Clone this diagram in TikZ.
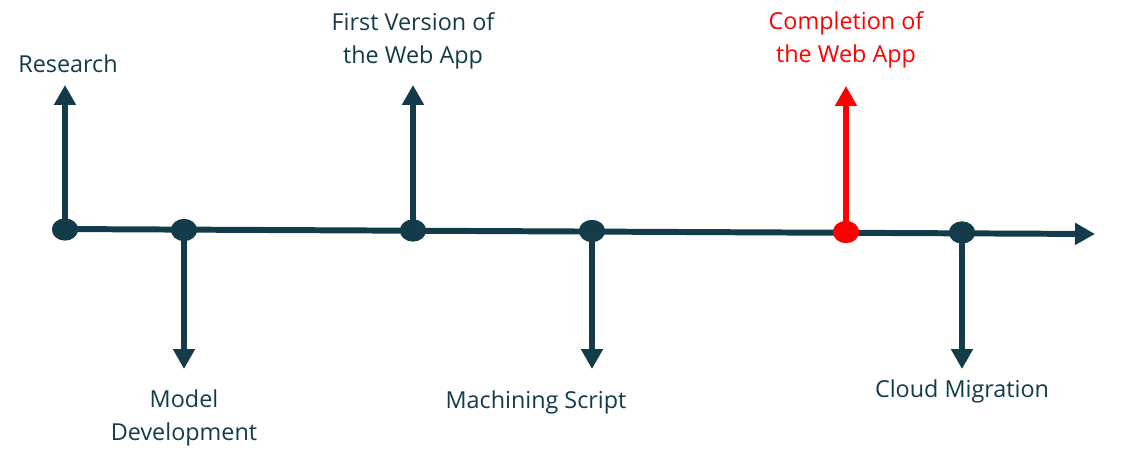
\documentclass[tikz,border=0pt]{standalone}
\usepackage{fontspec}
\setmainfont{Open Sans}
\usepackage{tikz}
\usetikzlibrary{shapes.geometric, arrows.meta, positioning}
\definecolor{timeteal}{RGB}{19, 59, 74}
\definecolor{donered}{RGB}{255, 0, 0}

\begin{document}
\begin{tikzpicture}[x=0.02cm, y=-0.02cm,
    dot/.style={ellipse, fill=timeteal, minimum width=0.52cm, minimum height=0.44cm, inner sep=0pt},
    reddot/.style={dot, fill=donered},
    arr/.style={-{Triangle[length=0.4cm, width=0.42cm]}, line width=3.4pt, color=timeteal},
    redarr/.style={arr, color=donered},
    label/.style={align=center, font=\fontsize{13.3}{19}\selectfont, text=timeteal},
    redlabel/.style={label, text=donered}
]
\useasboundingbox (0,0) rectangle (1130,455);

% axis
\coordinate (start) at (57,229);
\coordinate (stop) at (1095,234);
\draw[arr] (start) -- (stop);

% milestones on the axis
\node[dot] (research) at (65,229.5) {};
\node[dot] (model) at (184,230) {};
\node[dot] (first) at (413,230.5) {};
\node[dot] (script) at (592,231) {};
\node[reddot] (complete) at (846,232) {};
\node[dot] (cloud) at (962,232.5) {};

% arrow ends
\coordinate (researchtip) at (65,85);
\coordinate (modeltip) at (184,369);
\coordinate (firsttip) at (413,85);
\coordinate (scripttip) at (592,369);
\coordinate (completetip) at (846,86);
\coordinate (cloudtip) at (962,369);

\draw[arr] (research.center) -- (researchtip);
\draw[arr] (model.center) -- (modeltip);
\draw[arr] (first.center) -- (firsttip);
\draw[arr] (script.center) -- (scripttip);
\draw[redarr] (complete.center) -- (completetip);
\draw[arr] (cloud.center) -- (cloudtip);

% redraw dots over the stems
\node[dot] at (research) {};
\node[dot] at (model) {};
\node[dot] at (first) {};
\node[dot] at (script) {};
\node[reddot] at (complete) {};
\node[dot] at (cloud) {};

% labels
\node[label] (researchtxt) at (68,64) {Research};
\node[label] (modeltxt) at (184,418) {Model\\Development};
\node[label] (firsttxt) at (413,41) {First Version of\\the Web App};
\node[label] (scripttxt) at (536,402) {Machining Script};
\node[redlabel] (completetxt) at (846,40) {Completion of\\the Web App};
\node[label] (cloudtxt) at (962,391) {Cloud Migration};

\end{tikzpicture}
\end{document}
